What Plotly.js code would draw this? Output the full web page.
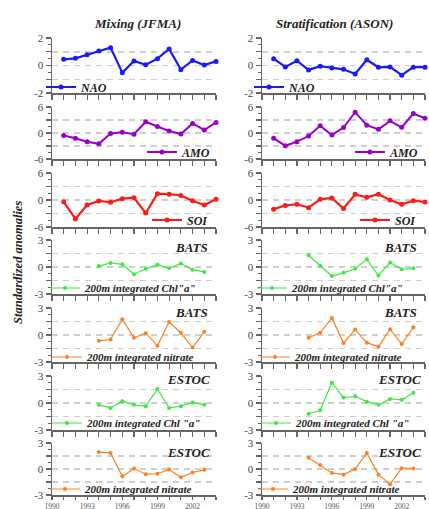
<!DOCTYPE html>
<html><head><meta charset="utf-8">
<script src="https://cdn.plot.ly/plotly-3.0.1.min.js"></script>
<style>html,body{margin:0;padding:0;background:#fff;overflow:hidden}</style>
</head><body><div id="chart" style="width:429px;height:509px"></div>
<script>
// ---- data ----
const years = [1991,1992,1993,1994,1995,1996,1997,1998,1999,2000,2001,2002,2003,2004];
const tickYears = [1990,1991,1992,1993,1994,1995,1996,1997,1998,1999,2000,2001,2002,2003,2004];
const tickYearLabels = ['1990','','','1993','','','1996','','','1999','','','2002','',''];

const naoMixing = [0.45,0.52,0.78,1.05,1.3,-0.52,0.33,0.05,0.5,1.2,-0.3,0.37,0.03,0.3];
const naoStrat  = [0.5,-0.1,0.35,-0.32,-0.05,-0.18,-0.28,-0.62,0.42,-0.13,-0.1,-0.7,-0.12,-0.12];
const amoMixing = [-0.6,-1.2,-2.0,-2.5,-0.1,0.15,-0.3,2.6,1.5,0.45,-0.25,2.2,0.7,2.45];
const amoStrat  = [-1.2,-2.95,-2.0,-0.7,1.65,-0.45,1.25,4.8,1.8,0.85,2.8,1.3,4.5,3.4];
const soiMixing = [-0.4,-4.2,-1.1,-0.2,-0.5,0.3,0.5,-2.9,1.4,1.3,1.0,-0.15,-1.1,0.15];
const soiStrat  = [-2.05,-1.2,-0.95,-1.7,0.15,0.45,-1.9,1.25,0.6,1.3,0.0,-0.95,-0.15,-0.45];
const batsChlMixing = [null,null,null,0.1,0.45,0.3,-0.8,-0.2,0.25,-0.15,0.4,-0.3,-0.55,null];
const batsChlStrat  = [null,null,null,1.3,0.15,-1.0,-0.65,-0.2,0.85,-0.95,0.5,-0.25,-0.15,null];
const batsNitMixing = [null,null,null,-0.65,-0.5,1.75,-0.3,0.2,-1.2,1.45,0.25,-1.4,0.35,null];
const batsNitStrat  = [null,null,null,-0.3,0.25,1.9,-0.9,0.6,-0.85,-1.3,0.65,-1.0,0.85,null];
const estocChlMixing = [null,null,null,-0.2,-0.55,0.2,-0.2,-0.35,1.55,-0.55,-0.35,0.05,-0.2,null];
const estocChlStrat  = [null,null,null,-1.2,-0.8,2.25,0.6,0.75,0.15,-0.2,0.45,0.35,1.15,null];
const estocNitMixing = [null,null,null,1.95,1.85,-0.85,0.05,-0.6,-0.55,-0.05,-0.95,-0.4,-0.1,null];
const estocNitStrat  = [null,null,null,1.3,0.45,-0.45,-0.65,0.0,1.85,-0.65,-1.75,0.1,0.05,null];

const columnTitles = ['Mixing (JFMA)','Stratification (ASON)'];
const yTitle = 'Standardized anomalies';

// ---- layout constants ----
const W = 429, H = 509;
const colX = [[52,216],[262,425]];
const rowY = [[38,93],[107,159],[173,227],[240,294],[308,362],[376,430],[443,495]];
const SERIF = 'Liberation Serif, Times New Roman, serif';
const AXC = '#666';

const s3 = {range:[-3,3], tickvals:[-3,-1.5,0,1.5,3], ticktext:['-3','','0','','3'], minor:0.75};
const s6 = {range:[-6,6], tickvals:[-6,-3,0,3,6], ticktext:['-6','','0','','6'], minor:1.5};
const s2 = {range:[-2,2], tickvals:[-2,-1,0,1,2], ticktext:['-2','','0','','2'], minor:0.5};

const rows = [
  {data:[naoMixing,naoStrat], name:'NAO', color:'#1a1aff', width:2.2, size:5, sc:s2, leg:'left', legY:87, legX:[[84],[292]], fs:12},
  {data:[amoMixing,amoStrat], name:'AMO', color:'#9a00c8', width:2, size:5, sc:s6, leg:'right', legY:152, legX:[[212],[420]], fs:12},
  {data:[soiMixing,soiStrat], name:'SOI', color:'#ff1a1a', width:2.2, size:5, sc:s6, leg:'right', legY:220, legX:[[210],[418]], fs:12},
  {data:[batsChlMixing,batsChlStrat], name:'200m integrated Chl"a"', color:'#3ee83e', width:1.2, size:4, sc:s3, leg:'left', legY:288, legX:[[88],[295]], fs:11, station:'BATS', stY:247, stX:[210,419]},
  {data:[batsNitMixing,batsNitStrat], name:'200m integrated nitrate', color:'#ff8024', width:1.2, size:4, sc:s3, leg:'left', legY:357, legX:[[90],[298]], fs:11, station:'BATS', stY:312, stX:[210,419]},
  {data:[estocChlMixing,estocChlStrat], name:'200m integrated Chl "a"', color:'#3ee83e', width:1.2, size:4, sc:s3, leg:'left', legY:423, legX:[[90],[299]], fs:11, station:'ESTOC', stY:379, stX:[212,423]},
  {data:[estocNitMixing,estocNitStrat], name:'200m integrated nitrate', color:'#ff8024', width:1.2, size:4, sc:s3, leg:'left', legY:489, legX:[[88],[296]], fs:11, station:'ESTOC', stY:452, stX:[212,423]}
];

const LEG_TEXT_OFFSET = 43;
const LEG_RIGHT_PAD = 4;

const traces = [];
const layout = {
  width: W, height: H,
  margin: {l:0, r:0, t:0, b:0},
  paper_bgcolor: '#fff', plot_bgcolor: 'rgba(0,0,0,0)',
  font: {family: SERIF, color: '#444'},
  annotations: [],
  showlegend: true
};

rows.forEach((row, r) => {
  [0,1].forEach(c => {
    const n = r*2 + c + 1;
    const xs = n === 1 ? '' : String(n);
    const legName = 'legend' + (n === 1 ? '' : n);
    const last = r === rows.length-1;
    traces.push({
      x: years, y: row.data[c],
      xaxis: 'x'+xs, yaxis: 'y'+xs,
      mode: 'lines+markers', name: row.name,
      line: {color: row.color, width: row.width},
      marker: {color: row.color, size: row.size},
      cliponaxis: false, connectgaps: false,
      legend: legName, showlegend: true, hoverinfo: 'skip'
    });
    layout['xaxis'+xs] = {
      domain: [colX[c][0]/W, colX[c][1]/W], anchor: 'y'+xs,
      range: [1990, 2004], tickmode: 'array', tickvals: tickYears,
      ticktext: last ? tickYearLabels : tickYears.map(()=>''),
      ticks: 'outside', ticklen: last ? 3 : 5, tickwidth: 1.2, tickcolor: AXC,
      showline: true, linecolor: AXC, linewidth: 1.5,
      showgrid: false, zeroline: false, fixedrange: true,
      tickfont: {family: SERIF, size: last ? 7.5 : 11, color: '#555'}
    };
    layout['yaxis'+xs] = {
      domain: [1 - rowY[r][1]/H, 1 - rowY[r][0]/H], anchor: 'x'+xs,
      range: row.sc.range, tickmode: 'array', tickvals: row.sc.tickvals, ticktext: row.sc.ticktext,
      ticks: 'outside', ticklen: 5, tickwidth: 1.2, tickcolor: AXC,
      minor: {tickmode: 'linear', tick0: 0, dtick: row.sc.minor, ticks: 'outside', ticklen: 3, tickcolor: AXC, showgrid: false},
      showline: true, linecolor: AXC, linewidth: 1.5,
      showgrid: true, gridcolor: '#cfcfcf', gridwidth: 1.5, griddash: '6px,5px',
      zeroline: false, fixedrange: true,
      tickfont: {family: SERIF, size: 11, color: '#444'}
    };
    const leg = {
      bgcolor: 'rgba(0,0,0,0)', borderwidth: 0,
      font: {family: SERIF, size: row.fs, color: '#222', weight: 'bold', style: 'italic'},
      yanchor: 'middle', y: 1 - row.legY/H, itemwidth: 30
    };
    if (row.leg === 'left') {
      leg.xanchor = 'left'; leg.x = (row.legX[c][0] - LEG_TEXT_OFFSET)/W;
    } else {
      leg.xanchor = 'right'; leg.x = (row.legX[c][0] + LEG_RIGHT_PAD)/W;
    }
    layout[legName] = leg;
    if (row.station) {
      layout.annotations.push({
        text: row.station, xref: 'paper', yref: 'paper',
        x: row.stX[c]/W, y: 1 - row.stY/H, xanchor: 'right', yanchor: 'middle',
        showarrow: false,
        font: {family: SERIF, size: 13, color: '#222', weight: 'bold', style: 'italic'}
      });
    }
  });
});

layout.annotations.push(
  {text: columnTitles[0], xref:'paper', yref:'paper', x:137/W, y:1-24/H, xanchor:'center', yanchor:'middle', showarrow:false,
   font:{family:SERIF, size:13, color:'#222', weight:'bold', style:'italic'}},
  {text: columnTitles[1], xref:'paper', yref:'paper', x:334/W, y:1-24/H, xanchor:'center', yanchor:'middle', showarrow:false,
   font:{family:SERIF, size:13, color:'#222', weight:'bold', style:'italic'}},
  {text: yTitle, xref:'paper', yref:'paper', x:18/W, y:1-263/H, xanchor:'center', yanchor:'middle', textangle:-90, showarrow:false,
   font:{family:SERIF, size:12.5, color:'#222', weight:'bold', style:'italic'}}
);

Plotly.newPlot('chart', traces, layout, {staticPlot: true, displayModeBar: false});
</script></body></html>
